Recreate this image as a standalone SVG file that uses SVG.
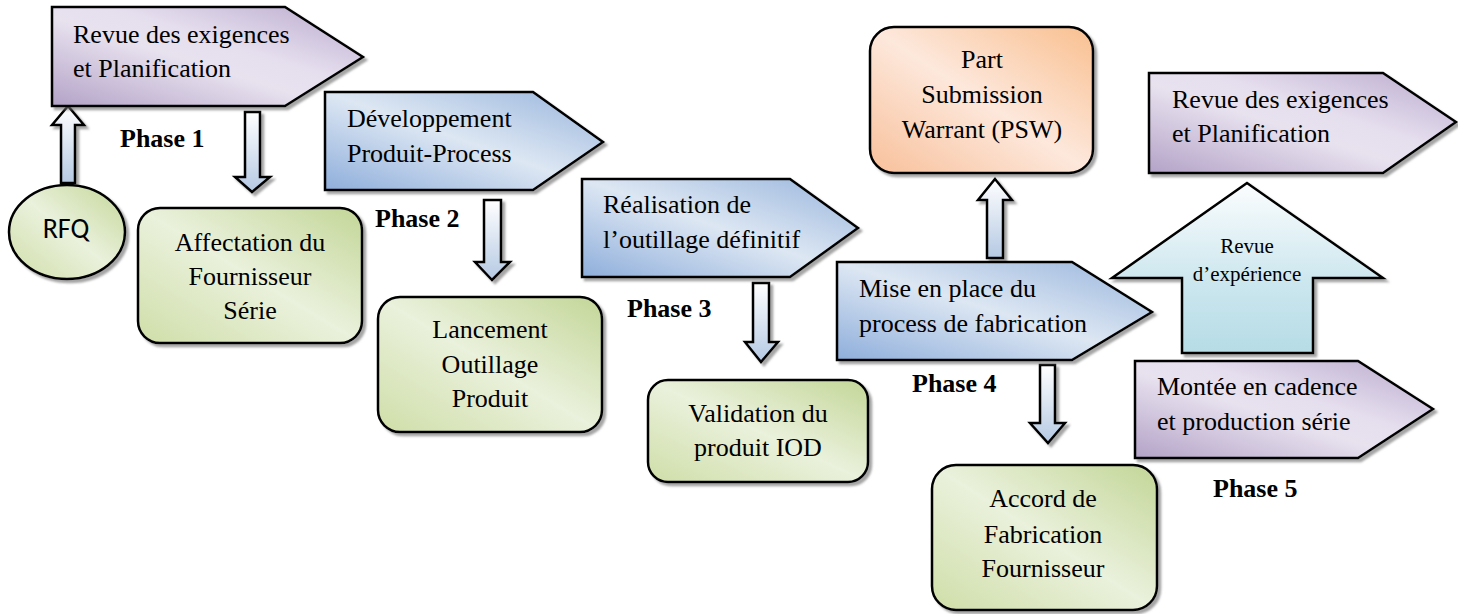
<svg xmlns="http://www.w3.org/2000/svg" width="1458" height="614" viewBox="0 0 1458 614">
  <defs>
    <linearGradient id="gPurple" x1="0" y1="1" x2="1" y2="0">
      <stop offset="0" stop-color="#b3a2c7"/>
      <stop offset="0.45" stop-color="#e8e2ef"/>
      <stop offset="0.6" stop-color="#e5deee"/>
      <stop offset="1" stop-color="#b8a8cc"/>
    </linearGradient>
    <linearGradient id="gBlue" x1="0" y1="1" x2="1" y2="0">
      <stop offset="0" stop-color="#8eaedb"/>
      <stop offset="0.5" stop-color="#dde7f3"/>
      <stop offset="1" stop-color="#97b4dc"/>
    </linearGradient>
    <linearGradient id="gGreen" x1="0" y1="1" x2="1" y2="0">
      <stop offset="0" stop-color="#cfdea8"/>
      <stop offset="0.5" stop-color="#eaf1dc"/>
      <stop offset="1" stop-color="#c3d697"/>
    </linearGradient>
    <linearGradient id="gOrange" x1="0" y1="1" x2="1" y2="0">
      <stop offset="0" stop-color="#f8c09a"/>
      <stop offset="0.5" stop-color="#fde8dc"/>
      <stop offset="1" stop-color="#f9bf8f"/>
    </linearGradient>
    <linearGradient id="gArrow" x1="0" y1="0" x2="0" y2="1">
      <stop offset="0" stop-color="#ffffff"/>
      <stop offset="1" stop-color="#b5c9e3"/>
    </linearGradient>
    <linearGradient id="gBig" x1="0" y1="0" x2="0" y2="1">
      <stop offset="0" stop-color="#fbfdfe"/>
      <stop offset="0.6" stop-color="#cbe6ee"/>
      <stop offset="1" stop-color="#b6dce6"/>
    </linearGradient>
    <filter id="shadow" x="-10%" y="-10%" width="130%" height="130%">
      <feDropShadow dx="3" dy="3" stdDeviation="1" flood-color="#6b6b6b" flood-opacity="0.6"/>
    </filter>
  </defs>
  <style>
    .shape { stroke: #000; stroke-width: 2.5; filter: url(#shadow); stroke-linejoin: miter; }
    .purple { fill: url(#gPurple); }
    .blue { fill: url(#gBlue); }
    .green { fill: url(#gGreen); }
    .orange { fill: url(#gOrange); }
    .arrow { fill: url(#gArrow); stroke: #000; stroke-width: 2.5; filter: url(#shadow); }
    .big { fill: url(#gBig); }
    text { font-family: "Liberation Serif", "Times New Roman", serif; fill: #000; }
    .lbl { font-size: 26px; }
    .mid { text-anchor: middle; }
    .phase { font-size: 26px; font-weight: bold; }
    .sans { font-family: "Carlito", "Lato", "Liberation Sans", sans-serif; font-size: 28px; }
    .small { font-size: 21px; }
  </style>

  <!-- connectors: block arrows between stages -->
  <g id="connectors">
    <!-- RFQ up to first stage -->
    <polygon class="arrow" points="68,106 52,125 61,125 61,183 75,183 75,125 84,125"/>
    <!-- stage 1 down -->
    <polygon class="arrow" points="245,112 260,112 260,177 270,177 252,192 235,177 245,177"/>
    <!-- stage 2 down -->
    <polygon class="arrow" points="484,200 501,200 501,262 510,262 492,280 475,262 484,262"/>
    <!-- stage 3 down -->
    <polygon class="arrow" points="753,283 769,283 769,342 778,342 761,362 745,342 753,342"/>
    <!-- stage 4 up to PSW -->
    <polygon class="arrow" points="995,179 1012,200 1003,200 1003,258 987,258 987,200 978,200"/>
    <!-- stage 4 down -->
    <polygon class="arrow" points="1040,365 1055,365 1055,423 1065,423 1048,443 1030,423 1040,423"/>
  </g>

  <!-- Phase 1 -->
  <g id="stage1">
    <polygon class="shape purple" points="52,7 285,7 363,57 285,106 52,106"/>
    <text class="lbl" x="73" y="43">Revue des exigences</text>
    <text class="lbl" x="73" y="77">et Planification</text>
  </g>
  <text id="phase1" class="phase" x="120" y="147">Phase 1</text>

  <g id="rfq">
    <ellipse class="shape green" cx="67" cy="232" rx="58" ry="47"/>
    <text class="sans mid" x="66" y="238">RFQ</text>
  </g>

  <g id="affectation">
    <rect class="shape green" x="138" y="208" width="224" height="135" rx="22"/>
    <text class="lbl mid" x="250" y="251">Affectation du</text>
    <text class="lbl mid" x="250" y="285">Fournisseur</text>
    <text class="lbl mid" x="250" y="319">Série</text>
  </g>

  <!-- Phase 2 -->
  <g id="stage2">
    <polygon class="shape blue" points="325,92 533,92 603,142 533,190 325,190"/>
    <text class="lbl" x="347" y="127">Développement</text>
    <text class="lbl" x="347" y="162">Produit-Process</text>
  </g>
  <text id="phase2" class="phase" x="375" y="227">Phase 2</text>

  <g id="lancement">
    <rect class="shape green" x="378" y="297" width="224" height="135" rx="22"/>
    <text class="lbl mid" x="490" y="338">Lancement</text>
    <text class="lbl mid" x="490" y="373">Outillage</text>
    <text class="lbl mid" x="490" y="407">Produit</text>
  </g>

  <!-- Phase 3 -->
  <g id="stage3">
    <polygon class="shape blue" points="582,179 790,179 858,228 790,277 582,277"/>
    <text class="lbl" x="603" y="213">Réalisation de</text>
    <text class="lbl" x="603" y="248">l’outillage définitif</text>
  </g>
  <text id="phase3" class="phase" x="627" y="317">Phase 3</text>

  <g id="validation">
    <rect class="shape green" x="648" y="380" width="220" height="102" rx="20"/>
    <text class="lbl mid" x="758" y="422">Validation du</text>
    <text class="lbl mid" x="758" y="456">produit IOD</text>
  </g>

  <!-- Phase 4 -->
  <g id="psw">
    <rect class="shape orange" x="870" y="27" width="223" height="146" rx="24"/>
    <text class="lbl mid" x="982" y="68">Part</text>
    <text class="lbl mid" x="982" y="103">Submission</text>
    <text class="lbl mid" x="982" y="138">Warrant (PSW)</text>
  </g>

  <g id="stage4">
    <polygon class="shape blue" points="837,262 1072,262 1152,312 1072,360 837,360"/>
    <text class="lbl" x="859" y="297">Mise en place du</text>
    <text class="lbl" x="859" y="332">process de fabrication</text>
  </g>
  <text id="phase4" class="phase" x="912" y="392">Phase 4</text>

  <g id="accord">
    <rect class="shape green" x="932" y="465" width="225" height="145" rx="24"/>
    <text class="lbl mid" x="1043" y="507">Accord de</text>
    <text class="lbl mid" x="1043" y="543">Fabrication</text>
    <text class="lbl mid" x="1043" y="577">Fournisseur</text>
  </g>

  <!-- Phase 5 -->
  <g id="stage6">
    <polygon class="shape purple" points="1149,73 1383,73 1456,122 1383,173 1149,173"/>
    <text class="lbl" x="1172" y="108">Revue des exigences</text>
    <text class="lbl" x="1172" y="142">et Planification</text>
  </g>

  <g id="retex">
    <polygon class="shape big" points="1247,183 1383,278 1313,278 1313,353 1182,353 1182,278 1112,278"/>
    <text class="small mid" x="1247" y="253">Revue</text>
    <text class="small mid" x="1247" y="281">d’expérience</text>
  </g>

  <g id="stage5">
    <polygon class="shape purple" points="1135,361 1358,361 1433,409 1358,458 1135,458"/>
    <text class="lbl" x="1157" y="395">Montée en cadence</text>
    <text class="lbl" x="1157" y="430">et production série</text>
  </g>
  <text id="phase5" class="phase" x="1213" y="497">Phase 5</text>
</svg>
